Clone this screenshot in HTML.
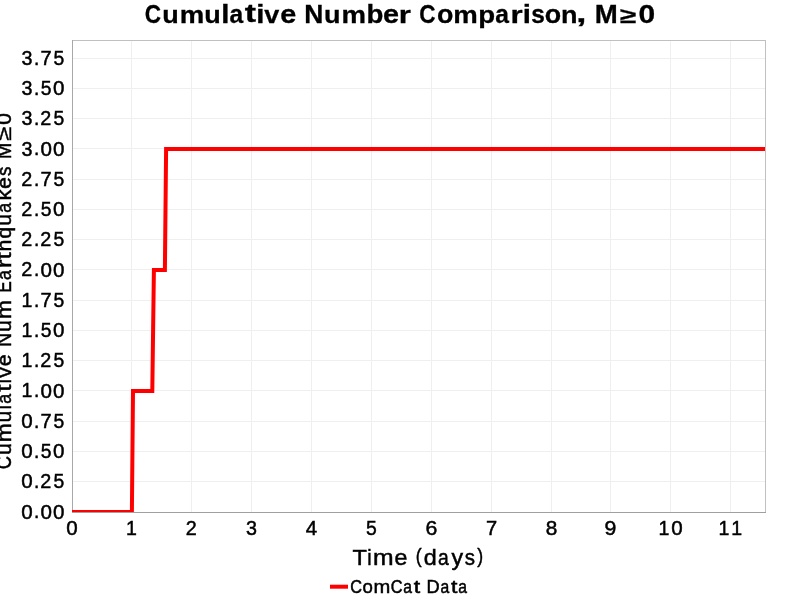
<!DOCTYPE html>
<html><head><meta charset="utf-8"><style>
html,body{margin:0;padding:0;background:#fff;overflow:hidden;}
svg{display:block;will-change:transform;}
text{font-family:"Liberation Sans",sans-serif;fill:#000;}
</style></head><body>
<svg width="800" height="600" viewBox="0 0 800 600">
<rect x="0" y="0" width="800" height="600" fill="#fff"/>
<g stroke="#efefef" stroke-width="1" shape-rendering="crispEdges">
<line x1="131.5" y1="40" x2="131.5" y2="512"/>
<line x1="191.5" y1="40" x2="191.5" y2="512"/>
<line x1="251.5" y1="40" x2="251.5" y2="512"/>
<line x1="311.5" y1="40" x2="311.5" y2="512"/>
<line x1="371.5" y1="40" x2="371.5" y2="512"/>
<line x1="431.5" y1="40" x2="431.5" y2="512"/>
<line x1="491.5" y1="40" x2="491.5" y2="512"/>
<line x1="551.5" y1="40" x2="551.5" y2="512"/>
<line x1="610.5" y1="40" x2="610.5" y2="512"/>
<line x1="670.5" y1="40" x2="670.5" y2="512"/>
<line x1="730.5" y1="40" x2="730.5" y2="512"/>
<line x1="72" y1="481.5" x2="765" y2="481.5"/>
<line x1="72" y1="451.5" x2="765" y2="451.5"/>
<line x1="72" y1="421.5" x2="765" y2="421.5"/>
<line x1="72" y1="390.5" x2="765" y2="390.5"/>
<line x1="72" y1="360.5" x2="765" y2="360.5"/>
<line x1="72" y1="330.5" x2="765" y2="330.5"/>
<line x1="72" y1="300.5" x2="765" y2="300.5"/>
<line x1="72" y1="269.5" x2="765" y2="269.5"/>
<line x1="72" y1="239.5" x2="765" y2="239.5"/>
<line x1="72" y1="209.5" x2="765" y2="209.5"/>
<line x1="72" y1="179.5" x2="765" y2="179.5"/>
<line x1="72" y1="148.5" x2="765" y2="148.5"/>
<line x1="72" y1="118.5" x2="765" y2="118.5"/>
<line x1="72" y1="88.5" x2="765" y2="88.5"/>
<line x1="72" y1="58.5" x2="765" y2="58.5"/>
</g>
<g shape-rendering="crispEdges">
<line x1="72" y1="40.5" x2="766" y2="40.5" stroke="#c0c0c0"/>
<line x1="765.5" y1="40" x2="765.5" y2="513" stroke="#c0c0c0"/>
<line x1="72.5" y1="40" x2="72.5" y2="513" stroke="#a8a8a8"/>
<line x1="72" y1="512.5" x2="766" y2="512.5" stroke="#a0a0a0"/>
</g>
<defs><clipPath id="da"><rect x="72" y="40" width="693" height="472"/></clipPath></defs>
<polyline clip-path="url(#da)" fill="none" stroke="#ff0000" stroke-width="4" stroke-linejoin="miter" points="60,511.9 131.9,511.9 133,390.9 152.3,390.9 153.9,269.9 164.9,269.9 166.1,148.9 800,148.9"/>
<rect x="330" y="584.7" width="18" height="4" fill="#ff0000"/>
<text transform="translate(0,518.6) translate(27.04,-0.05) scale(0.97,0.991)" x="-5.9" font-size="21.2" stroke="#000" stroke-width="0.5">0</text>
<text transform="translate(0,518.6) translate(36.58,-0.12) scale(0.897,0.984)" x="-2.95" font-size="21.2" stroke="#000" stroke-width="0.5">.</text>
<text transform="translate(0,518.6) translate(46.11,-0.05) scale(0.97,0.991)" x="-5.9" font-size="21.2" stroke="#000" stroke-width="0.5">0</text>
<text transform="translate(0,518.6) translate(58.83,-0.05) scale(0.97,0.991)" x="-5.9" font-size="21.2" stroke="#000" stroke-width="0.5">0</text>
<text transform="translate(0,488.35) translate(27.04,-0.05) scale(0.97,0.991)" x="-5.9" font-size="21.2" stroke="#000" stroke-width="0.5">0</text>
<text transform="translate(0,488.35) translate(36.58,-0.12) scale(0.897,0.984)" x="-2.95" font-size="21.2" stroke="#000" stroke-width="0.5">.</text>
<text transform="translate(0,488.35) translate(45.86,-0.12) scale(0.933,0.986)" x="-5.9" font-size="21.2" stroke="#000" stroke-width="0.5">2</text>
<text transform="translate(0,488.35) translate(58.75,-0.05) scale(0.914,0.988)" x="-5.87" font-size="21.2" stroke="#000" stroke-width="0.5">5</text>
<text transform="translate(0,458.1) translate(27.04,-0.05) scale(0.97,0.991)" x="-5.9" font-size="21.2" stroke="#000" stroke-width="0.5">0</text>
<text transform="translate(0,458.1) translate(36.58,-0.12) scale(0.897,0.984)" x="-2.95" font-size="21.2" stroke="#000" stroke-width="0.5">.</text>
<text transform="translate(0,458.1) translate(46.03,-0.05) scale(0.914,0.988)" x="-5.87" font-size="21.2" stroke="#000" stroke-width="0.5">5</text>
<text transform="translate(0,458.1) translate(58.83,-0.05) scale(0.97,0.991)" x="-5.9" font-size="21.2" stroke="#000" stroke-width="0.5">0</text>
<text transform="translate(0,427.85) translate(27.04,-0.05) scale(0.97,0.991)" x="-5.9" font-size="21.2" stroke="#000" stroke-width="0.5">0</text>
<text transform="translate(0,427.85) translate(36.58,-0.12) scale(0.897,0.984)" x="-2.95" font-size="21.2" stroke="#000" stroke-width="0.5">.</text>
<text transform="translate(0,427.85) translate(46.09,-0.12) scale(0.947,0.982)" x="-5.91" font-size="21.2" stroke="#000" stroke-width="0.5">7</text>
<text transform="translate(0,427.85) translate(58.75,-0.05) scale(0.914,0.988)" x="-5.87" font-size="21.2" stroke="#000" stroke-width="0.5">5</text>
<text transform="translate(0,397.6) translate(27.22,-0.12) scale(0.922,0.982)" x="-6.19" font-size="21.2" stroke="#000" stroke-width="0.5">1</text>
<text transform="translate(0,397.6) translate(36.58,-0.12) scale(0.897,0.984)" x="-2.95" font-size="21.2" stroke="#000" stroke-width="0.5">.</text>
<text transform="translate(0,397.6) translate(46.11,-0.05) scale(0.97,0.991)" x="-5.9" font-size="21.2" stroke="#000" stroke-width="0.5">0</text>
<text transform="translate(0,397.6) translate(58.83,-0.05) scale(0.97,0.991)" x="-5.9" font-size="21.2" stroke="#000" stroke-width="0.5">0</text>
<text transform="translate(0,367.35) translate(27.22,-0.12) scale(0.922,0.982)" x="-6.19" font-size="21.2" stroke="#000" stroke-width="0.5">1</text>
<text transform="translate(0,367.35) translate(36.58,-0.12) scale(0.897,0.984)" x="-2.95" font-size="21.2" stroke="#000" stroke-width="0.5">.</text>
<text transform="translate(0,367.35) translate(45.86,-0.12) scale(0.933,0.986)" x="-5.9" font-size="21.2" stroke="#000" stroke-width="0.5">2</text>
<text transform="translate(0,367.35) translate(58.75,-0.05) scale(0.914,0.988)" x="-5.87" font-size="21.2" stroke="#000" stroke-width="0.5">5</text>
<text transform="translate(0,337.1) translate(27.22,-0.12) scale(0.922,0.982)" x="-6.19" font-size="21.2" stroke="#000" stroke-width="0.5">1</text>
<text transform="translate(0,337.1) translate(36.58,-0.12) scale(0.897,0.984)" x="-2.95" font-size="21.2" stroke="#000" stroke-width="0.5">.</text>
<text transform="translate(0,337.1) translate(46.03,-0.05) scale(0.914,0.988)" x="-5.87" font-size="21.2" stroke="#000" stroke-width="0.5">5</text>
<text transform="translate(0,337.1) translate(58.83,-0.05) scale(0.97,0.991)" x="-5.9" font-size="21.2" stroke="#000" stroke-width="0.5">0</text>
<text transform="translate(0,306.85) translate(27.22,-0.12) scale(0.922,0.982)" x="-6.19" font-size="21.2" stroke="#000" stroke-width="0.5">1</text>
<text transform="translate(0,306.85) translate(36.58,-0.12) scale(0.897,0.984)" x="-2.95" font-size="21.2" stroke="#000" stroke-width="0.5">.</text>
<text transform="translate(0,306.85) translate(46.09,-0.12) scale(0.947,0.982)" x="-5.91" font-size="21.2" stroke="#000" stroke-width="0.5">7</text>
<text transform="translate(0,306.85) translate(58.75,-0.05) scale(0.914,0.988)" x="-5.87" font-size="21.2" stroke="#000" stroke-width="0.5">5</text>
<text transform="translate(0,276.6) translate(26.78,-0.12) scale(0.933,0.986)" x="-5.9" font-size="21.2" stroke="#000" stroke-width="0.5">2</text>
<text transform="translate(0,276.6) translate(36.58,-0.12) scale(0.897,0.984)" x="-2.95" font-size="21.2" stroke="#000" stroke-width="0.5">.</text>
<text transform="translate(0,276.6) translate(46.11,-0.05) scale(0.97,0.991)" x="-5.9" font-size="21.2" stroke="#000" stroke-width="0.5">0</text>
<text transform="translate(0,276.6) translate(58.83,-0.05) scale(0.97,0.991)" x="-5.9" font-size="21.2" stroke="#000" stroke-width="0.5">0</text>
<text transform="translate(0,246.35) translate(26.78,-0.12) scale(0.933,0.986)" x="-5.9" font-size="21.2" stroke="#000" stroke-width="0.5">2</text>
<text transform="translate(0,246.35) translate(36.58,-0.12) scale(0.897,0.984)" x="-2.95" font-size="21.2" stroke="#000" stroke-width="0.5">.</text>
<text transform="translate(0,246.35) translate(45.86,-0.12) scale(0.933,0.986)" x="-5.9" font-size="21.2" stroke="#000" stroke-width="0.5">2</text>
<text transform="translate(0,246.35) translate(58.75,-0.05) scale(0.914,0.988)" x="-5.87" font-size="21.2" stroke="#000" stroke-width="0.5">5</text>
<text transform="translate(0,216.1) translate(26.78,-0.12) scale(0.933,0.986)" x="-5.9" font-size="21.2" stroke="#000" stroke-width="0.5">2</text>
<text transform="translate(0,216.1) translate(36.58,-0.12) scale(0.897,0.984)" x="-2.95" font-size="21.2" stroke="#000" stroke-width="0.5">.</text>
<text transform="translate(0,216.1) translate(46.03,-0.05) scale(0.914,0.988)" x="-5.87" font-size="21.2" stroke="#000" stroke-width="0.5">5</text>
<text transform="translate(0,216.1) translate(58.83,-0.05) scale(0.97,0.991)" x="-5.9" font-size="21.2" stroke="#000" stroke-width="0.5">0</text>
<text transform="translate(0,185.85) translate(26.78,-0.12) scale(0.933,0.986)" x="-5.9" font-size="21.2" stroke="#000" stroke-width="0.5">2</text>
<text transform="translate(0,185.85) translate(36.58,-0.12) scale(0.897,0.984)" x="-2.95" font-size="21.2" stroke="#000" stroke-width="0.5">.</text>
<text transform="translate(0,185.85) translate(46.09,-0.12) scale(0.947,0.982)" x="-5.91" font-size="21.2" stroke="#000" stroke-width="0.5">7</text>
<text transform="translate(0,185.85) translate(58.75,-0.05) scale(0.914,0.988)" x="-5.87" font-size="21.2" stroke="#000" stroke-width="0.5">5</text>
<text transform="translate(0,155.6) translate(27.01,-0.05) scale(0.93,0.991)" x="-5.83" font-size="21.2" stroke="#000" stroke-width="0.5">3</text>
<text transform="translate(0,155.6) translate(36.58,-0.12) scale(0.897,0.984)" x="-2.95" font-size="21.2" stroke="#000" stroke-width="0.5">.</text>
<text transform="translate(0,155.6) translate(46.11,-0.05) scale(0.97,0.991)" x="-5.9" font-size="21.2" stroke="#000" stroke-width="0.5">0</text>
<text transform="translate(0,155.6) translate(58.83,-0.05) scale(0.97,0.991)" x="-5.9" font-size="21.2" stroke="#000" stroke-width="0.5">0</text>
<text transform="translate(0,125.35) translate(27.01,-0.05) scale(0.93,0.991)" x="-5.83" font-size="21.2" stroke="#000" stroke-width="0.5">3</text>
<text transform="translate(0,125.35) translate(36.58,-0.12) scale(0.897,0.984)" x="-2.95" font-size="21.2" stroke="#000" stroke-width="0.5">.</text>
<text transform="translate(0,125.35) translate(45.86,-0.12) scale(0.933,0.986)" x="-5.9" font-size="21.2" stroke="#000" stroke-width="0.5">2</text>
<text transform="translate(0,125.35) translate(58.75,-0.05) scale(0.914,0.988)" x="-5.87" font-size="21.2" stroke="#000" stroke-width="0.5">5</text>
<text transform="translate(0,95.1) translate(27.01,-0.05) scale(0.93,0.991)" x="-5.83" font-size="21.2" stroke="#000" stroke-width="0.5">3</text>
<text transform="translate(0,95.1) translate(36.58,-0.12) scale(0.897,0.984)" x="-2.95" font-size="21.2" stroke="#000" stroke-width="0.5">.</text>
<text transform="translate(0,95.1) translate(46.03,-0.05) scale(0.914,0.988)" x="-5.87" font-size="21.2" stroke="#000" stroke-width="0.5">5</text>
<text transform="translate(0,95.1) translate(58.83,-0.05) scale(0.97,0.991)" x="-5.9" font-size="21.2" stroke="#000" stroke-width="0.5">0</text>
<text transform="translate(0,64.85) translate(27.01,-0.05) scale(0.93,0.991)" x="-5.83" font-size="21.2" stroke="#000" stroke-width="0.5">3</text>
<text transform="translate(0,64.85) translate(36.58,-0.12) scale(0.897,0.984)" x="-2.95" font-size="21.2" stroke="#000" stroke-width="0.5">.</text>
<text transform="translate(0,64.85) translate(46.09,-0.12) scale(0.947,0.982)" x="-5.91" font-size="21.2" stroke="#000" stroke-width="0.5">7</text>
<text transform="translate(0,64.85) translate(58.75,-0.05) scale(0.914,0.988)" x="-5.87" font-size="21.2" stroke="#000" stroke-width="0.5">5</text>
<text transform="translate(0,535.5) translate(71.99,-0.05) scale(0.97,0.991)" x="-5.9" font-size="21.2" stroke="#000" stroke-width="0.5">0</text>
<text transform="translate(0,535.5) translate(131.68,-0.12) scale(0.922,0.982)" x="-6.19" font-size="21.2" stroke="#000" stroke-width="0.5">1</text>
<text transform="translate(0,535.5) translate(191.23,-0.12) scale(0.933,0.986)" x="-5.9" font-size="21.2" stroke="#000" stroke-width="0.5">2</text>
<text transform="translate(0,535.5) translate(251.47,-0.05) scale(0.93,0.991)" x="-5.83" font-size="21.2" stroke="#000" stroke-width="0.5">3</text>
<text transform="translate(0,535.5) translate(311.44,-0.12) scale(0.971,0.982)" x="-5.83" font-size="21.2" stroke="#000" stroke-width="0.5">4</text>
<text transform="translate(0,535.5) translate(371.41,-0.05) scale(0.914,0.988)" x="-5.87" font-size="21.2" stroke="#000" stroke-width="0.5">5</text>
<text transform="translate(0,535.5) translate(431.57,-0.05) scale(1.004,0.991)" x="-5.97" font-size="21.2" stroke="#000" stroke-width="0.5">6</text>
<text transform="translate(0,535.5) translate(491.47,-0.12) scale(0.947,0.982)" x="-5.91" font-size="21.2" stroke="#000" stroke-width="0.5">7</text>
<text transform="translate(0,535.5) translate(551.5,-0.05) scale(0.98,0.991)" x="-5.9" font-size="21.2" stroke="#000" stroke-width="0.5">8</text>
<text transform="translate(0,535.5) translate(610.43,-0.05) scale(1.002,0.991)" x="-5.89" font-size="21.2" stroke="#000" stroke-width="0.5">9</text>
<text transform="translate(0,535.5) translate(664.32,-0.12) scale(0.922,0.982)" x="-6.19" font-size="21.2" stroke="#000" stroke-width="0.5">1</text>
<text transform="translate(0,535.5) translate(676.85,-0.05) scale(0.97,0.991)" x="-5.9" font-size="21.2" stroke="#000" stroke-width="0.5">0</text>
<text transform="translate(0,535.5) translate(724.32,-0.12) scale(0.922,0.982)" x="-6.19" font-size="21.2" stroke="#000" stroke-width="0.5">1</text>
<text transform="translate(0,535.5) translate(737.04,-0.12) scale(0.922,0.982)" x="-6.19" font-size="21.2" stroke="#000" stroke-width="0.5">1</text>
<text transform="translate(0,22.7) translate(152.99,0.02) scale(0.873,0.986)" x="-9.49" font-size="25.8" font-weight="bold" stroke="#000" stroke-width="0.3">C</text>
<text transform="translate(0,22.7) translate(170.46,0.02) scale(1.047,0.959)" x="-7.83" font-size="25.8" font-weight="bold" stroke="#000" stroke-width="0.3">u</text>
<text transform="translate(0,22.7) translate(191.93,-0.07) scale(1.068,0.957)" x="-11.52" font-size="25.8" font-weight="bold" stroke="#000" stroke-width="0.3">m</text>
<text transform="translate(0,22.7) translate(212.4,0.02) scale(1.047,0.959)" x="-7.83" font-size="25.8" font-weight="bold" stroke="#000" stroke-width="0.3">u</text>
<text transform="translate(0,22.7) translate(225.38,-0.07) scale(1.143,0.967)" x="-3.57" font-size="25.8" font-weight="bold" stroke="#000" stroke-width="0.3">l</text>
<text transform="translate(0,22.7) translate(236.86,0.02) scale(0.954,0.964)" x="-7.63" font-size="25.8" font-weight="bold" stroke="#000" stroke-width="0.3">a</text>
<text transform="translate(0,22.7) translate(250.34,-0.3) scale(1.313,0.979)" x="-4.3" font-size="25.8" font-weight="bold" stroke="#000" stroke-width="0.3">t</text>
<text transform="translate(0,22.7) translate(260.33,-0.07) scale(1.143,0.967)" x="-3.57" font-size="25.8" font-weight="bold" stroke="#000" stroke-width="0.3">i</text>
<text transform="translate(0,22.7) translate(271.81,-0.07) scale(1.046,0.952)" x="-7.17" font-size="25.8" font-weight="bold" stroke="#000" stroke-width="0.3">v</text>
<text transform="translate(0,22.7) translate(288.29,0.02) scale(1.119,0.964)" x="-7.24" font-size="25.8" font-weight="bold" stroke="#000" stroke-width="0.3">e</text>
<text transform="translate(0,22.7) translate(313.75,-0.07) scale(1.024,0.977)" x="-9.31" font-size="25.8" font-weight="bold" stroke="#000" stroke-width="0.3">N</text>
<text transform="translate(0,22.7) translate(332.22,0.02) scale(1.047,0.959)" x="-7.83" font-size="25.8" font-weight="bold" stroke="#000" stroke-width="0.3">u</text>
<text transform="translate(0,22.7) translate(353.69,-0.07) scale(1.068,0.957)" x="-11.52" font-size="25.8" font-weight="bold" stroke="#000" stroke-width="0.3">m</text>
<text transform="translate(0,22.7) translate(375.16,0.02) scale(1.072,0.972)" x="-8.2" font-size="25.8" font-weight="bold" stroke="#000" stroke-width="0.3">b</text>
<text transform="translate(0,22.7) translate(391.14,0.02) scale(1.119,0.964)" x="-7.24" font-size="25.8" font-weight="bold" stroke="#000" stroke-width="0.3">e</text>
<text transform="translate(0,22.7) translate(405.62,-0.07) scale(1.208,0.957)" x="-5.68" font-size="25.8" font-weight="bold" stroke="#000" stroke-width="0.3">r</text>
<text transform="translate(0,22.7) translate(427.58,0.02) scale(0.873,0.986)" x="-9.49" font-size="25.8" font-weight="bold" stroke="#000" stroke-width="0.3">C</text>
<text transform="translate(0,22.7) translate(445.06,0.02) scale(1.039,0.964)" x="-7.88" font-size="25.8" font-weight="bold" stroke="#000" stroke-width="0.3">o</text>
<text transform="translate(0,22.7) translate(465.53,-0.07) scale(1.068,0.957)" x="-11.52" font-size="25.8" font-weight="bold" stroke="#000" stroke-width="0.3">m</text>
<text transform="translate(0,22.7) translate(487.0,-0.16) scale(1.072,0.949)" x="-8.2" font-size="25.8" font-weight="bold" stroke="#000" stroke-width="0.3">p</text>
<text transform="translate(0,22.7) translate(502.47,0.02) scale(0.954,0.964)" x="-7.63" font-size="25.8" font-weight="bold" stroke="#000" stroke-width="0.3">a</text>
<text transform="translate(0,22.7) translate(517.45,-0.07) scale(1.208,0.957)" x="-5.68" font-size="25.8" font-weight="bold" stroke="#000" stroke-width="0.3">r</text>
<text transform="translate(0,22.7) translate(526.94,-0.07) scale(1.143,0.967)" x="-3.57" font-size="25.8" font-weight="bold" stroke="#000" stroke-width="0.3">i</text>
<text transform="translate(0,22.7) translate(537.92,0.02) scale(0.949,0.964)" x="-7.1" font-size="25.8" font-weight="bold" stroke="#000" stroke-width="0.3">s</text>
<text transform="translate(0,22.7) translate(552.9,0.02) scale(1.039,0.964)" x="-7.88" font-size="25.8" font-weight="bold" stroke="#000" stroke-width="0.3">o</text>
<text transform="translate(0,22.7) translate(569.38,-0.07) scale(1.047,0.957)" x="-7.93" font-size="25.8" font-weight="bold" stroke="#000" stroke-width="0.3">n</text>
<text transform="translate(0,22.7) translate(581.36,-0.64) scale(1.42,0.995)" x="-3.6" font-size="25.8" font-weight="bold" stroke="#000" stroke-width="0.3">,</text>
<text transform="translate(0,22.7) translate(606.32,-0.07) scale(1.071,0.977)" x="-10.75" font-size="25.8" font-weight="bold" stroke="#000" stroke-width="0.3">M</text>
<text transform="translate(0,22.7) translate(628.29,-0.07) scale(1.151,0.845)" x="-7.08" font-size="25.8" font-weight="bold" stroke="#000" stroke-width="0.3">≥</text>
<text transform="translate(0,22.7) translate(646.76,0.02) scale(1.162,0.986)" x="-7.16" font-size="25.8" font-weight="bold" stroke="#000" stroke-width="0.3">0</text>
<text transform="translate(0,564.9) translate(359.7,-0.12) scale(1.02,0.993)" x="-7.05" font-size="23.1" stroke="#000" stroke-width="0.5">T</text>
<text transform="translate(0,564.9) translate(369.52,-0.12) scale(0.85,0.984)" x="-2.56" font-size="23.1" stroke="#000" stroke-width="0.5">i</text>
<text transform="translate(0,564.9) translate(383.39,-0.12) scale(1.07,0.971)" x="-9.63" font-size="23.1" stroke="#000" stroke-width="0.5">m</text>
<text transform="translate(0,564.9) translate(400.89,-0.03) scale(1.006,0.978)" x="-6.4" font-size="23.1" stroke="#000" stroke-width="0.5">e</text>
<text transform="translate(0,564.9) translate(419.05,-1.52) scale(0.764,0.899)" x="-4.49" font-size="23.1" stroke="#000" stroke-width="0.5">(</text>
<text transform="translate(0,564.9) translate(429.9,-0.04) scale(1.011,0.989)" x="-6.16" font-size="23.1" stroke="#000" stroke-width="0.5">d</text>
<text transform="translate(0,564.9) translate(443.73,-0.03) scale(0.835,0.978)" x="-6.91" font-size="23.1" stroke="#000" stroke-width="0.5">a</text>
<text transform="translate(0,564.9) translate(457.36,-0.16) scale(1.001,0.962)" x="-5.78" font-size="23.1" stroke="#000" stroke-width="0.5">y</text>
<text transform="translate(0,564.9) translate(469.69,-0.03) scale(0.888,0.981)" x="-5.68" font-size="23.1" stroke="#000" stroke-width="0.5">s</text>
<text transform="translate(0,564.9) translate(479.63,-1.52) scale(0.764,0.899)" x="-3.2" font-size="23.1" stroke="#000" stroke-width="0.5">)</text>
<text transform="translate(0,592.8) translate(356.11,-0.05) scale(0.887,1.026)" x="-6.76" font-size="18.4" stroke="#000" stroke-width="0.5">C</text>
<text transform="translate(0,592.8) translate(367.71,-0.05) scale(1.011,1.001)" x="-5.12" font-size="18.4" stroke="#000" stroke-width="0.5">o</text>
<text transform="translate(0,592.8) translate(381.83,-0.12) scale(1.095,0.993)" x="-7.67" font-size="18.4" stroke="#000" stroke-width="0.5">m</text>
<text transform="translate(0,592.8) translate(396.62,-0.05) scale(0.887,1.026)" x="-6.76" font-size="18.4" stroke="#000" stroke-width="0.5">C</text>
<text transform="translate(0,592.8) translate(407.95,-0.05) scale(0.853,1.001)" x="-5.51" font-size="18.4" stroke="#000" stroke-width="0.5">a</text>
<text transform="translate(0,592.8) translate(417.16,-0.27) scale(1.254,1.029)" x="-2.63" font-size="18.4" stroke="#000" stroke-width="0.5">t</text>
<text transform="translate(0,592.8) translate(433.43,-0.12) scale(0.989,1.017)" x="-6.96" font-size="18.4" stroke="#000" stroke-width="0.5">D</text>
<text transform="translate(0,592.8) translate(445.07,-0.05) scale(0.853,1.001)" x="-5.51" font-size="18.4" stroke="#000" stroke-width="0.5">a</text>
<text transform="translate(0,592.8) translate(454.29,-0.27) scale(1.254,1.029)" x="-2.63" font-size="18.4" stroke="#000" stroke-width="0.5">t</text>
<text transform="translate(0,592.8) translate(462.9,-0.05) scale(0.853,1.001)" x="-5.51" font-size="18.4" stroke="#000" stroke-width="0.5">a</text>
<text transform="translate(10.9,468.5) rotate(-90) translate(5.96,-0.05) scale(0.858,0.992)" x="-7.9" font-size="21.5" stroke="#000" stroke-width="0.5">C</text>
<text transform="translate(10.9,468.5) rotate(-90) translate(19.37,-0.04) scale(0.991,0.986)" x="-5.96" font-size="21.5" stroke="#000" stroke-width="0.5">u</text>
<text transform="translate(10.9,468.5) rotate(-90) translate(35.77,-0.12) scale(1.059,0.961)" x="-8.96" font-size="21.5" stroke="#000" stroke-width="0.5">m</text>
<text transform="translate(10.9,468.5) rotate(-90) translate(51.93,-0.04) scale(0.991,0.986)" x="-5.96" font-size="21.5" stroke="#000" stroke-width="0.5">u</text>
<text transform="translate(10.9,468.5) rotate(-90) translate(61.23,-0.12) scale(0.833,0.974)" x="-2.39" font-size="21.5" stroke="#000" stroke-width="0.5">l</text>
<text transform="translate(10.9,468.5) rotate(-90) translate(69.94,-0.04) scale(0.826,0.968)" x="-6.44" font-size="21.5" stroke="#000" stroke-width="0.5">a</text>
<text transform="translate(10.9,468.5) rotate(-90) translate(80.46,-0.29) scale(1.216,0.995)" x="-3.07" font-size="21.5" stroke="#000" stroke-width="0.5">t</text>
<text transform="translate(10.9,468.5) rotate(-90) translate(87.22,-0.12) scale(0.833,0.974)" x="-2.38" font-size="21.5" stroke="#000" stroke-width="0.5">i</text>
<text transform="translate(10.9,468.5) rotate(-90) translate(96.03,-0.12) scale(0.995,0.955)" x="-5.38" font-size="21.5" stroke="#000" stroke-width="0.5">v</text>
<text transform="translate(10.9,468.5) rotate(-90) translate(108.28,-0.04) scale(0.995,0.968)" x="-5.96" font-size="21.5" stroke="#000" stroke-width="0.5">e</text>
<text transform="translate(10.9,468.5) rotate(-90) translate(128.51,-0.12) scale(0.912,0.984)" x="-7.77" font-size="21.5" stroke="#000" stroke-width="0.5">N</text>
<text transform="translate(10.9,468.5) rotate(-90) translate(142.45,-0.04) scale(0.991,0.986)" x="-5.96" font-size="21.5" stroke="#000" stroke-width="0.5">u</text>
<text transform="translate(10.9,468.5) rotate(-90) translate(158.86,-0.12) scale(1.059,0.961)" x="-8.96" font-size="21.5" stroke="#000" stroke-width="0.5">m</text>
<text transform="translate(10.9,468.5) rotate(-90) translate(181.85,-0.12) scale(0.797,0.984)" x="-7.59" font-size="21.5" stroke="#000" stroke-width="0.5">E</text>
<text transform="translate(10.9,468.5) rotate(-90) translate(193.81,-0.04) scale(0.826,0.968)" x="-6.44" font-size="21.5" stroke="#000" stroke-width="0.5">a</text>
<text transform="translate(10.9,468.5) rotate(-90) translate(205.41,-0.12) scale(1.163,0.961)" x="-4.12" font-size="21.5" stroke="#000" stroke-width="0.5">r</text>
<text transform="translate(10.9,468.5) rotate(-90) translate(212.66,-0.29) scale(1.216,0.995)" x="-3.07" font-size="21.5" stroke="#000" stroke-width="0.5">t</text>
<text transform="translate(10.9,468.5) rotate(-90) translate(223.08,-0.12) scale(0.997,0.974)" x="-6.03" font-size="21.5" stroke="#000" stroke-width="0.5">h</text>
<text transform="translate(10.9,468.5) rotate(-90) translate(235.51,-0.17) scale(0.999,0.957)" x="-5.74" font-size="21.5" stroke="#000" stroke-width="0.5">q</text>
<text transform="translate(10.9,468.5) rotate(-90) translate(248.66,-0.04) scale(0.991,0.986)" x="-5.96" font-size="21.5" stroke="#000" stroke-width="0.5">u</text>
<text transform="translate(10.9,468.5) rotate(-90) translate(261.04,-0.04) scale(0.826,0.968)" x="-6.44" font-size="21.5" stroke="#000" stroke-width="0.5">a</text>
<text transform="translate(10.9,468.5) rotate(-90) translate(274.31,-0.12) scale(1.029,0.974)" x="-6.12" font-size="21.5" stroke="#000" stroke-width="0.5">k</text>
<text transform="translate(10.9,468.5) rotate(-90) translate(285.54,-0.04) scale(0.995,0.968)" x="-5.96" font-size="21.5" stroke="#000" stroke-width="0.5">e</text>
<text transform="translate(10.9,468.5) rotate(-90) translate(297.08,-0.04) scale(0.878,0.971)" x="-5.29" font-size="21.5" stroke="#000" stroke-width="0.5">s</text>
<text transform="translate(10.9,468.5) rotate(-90) translate(317.49,-0.12) scale(0.924,0.984)" x="-8.95" font-size="21.5" stroke="#000" stroke-width="0.5">M</text>
<text transform="translate(10.9,468.5) rotate(-90) translate(334.73,-0.12) scale(1.193,0.895)" x="-5.91" font-size="21.5" stroke="#000" stroke-width="0.5">≥</text>
<text transform="translate(10.9,468.5) rotate(-90) translate(349.65,-0.05) scale(0.971,0.992)" x="-5.98" font-size="21.5" stroke="#000" stroke-width="0.5">0</text>
</svg>
</body></html>
